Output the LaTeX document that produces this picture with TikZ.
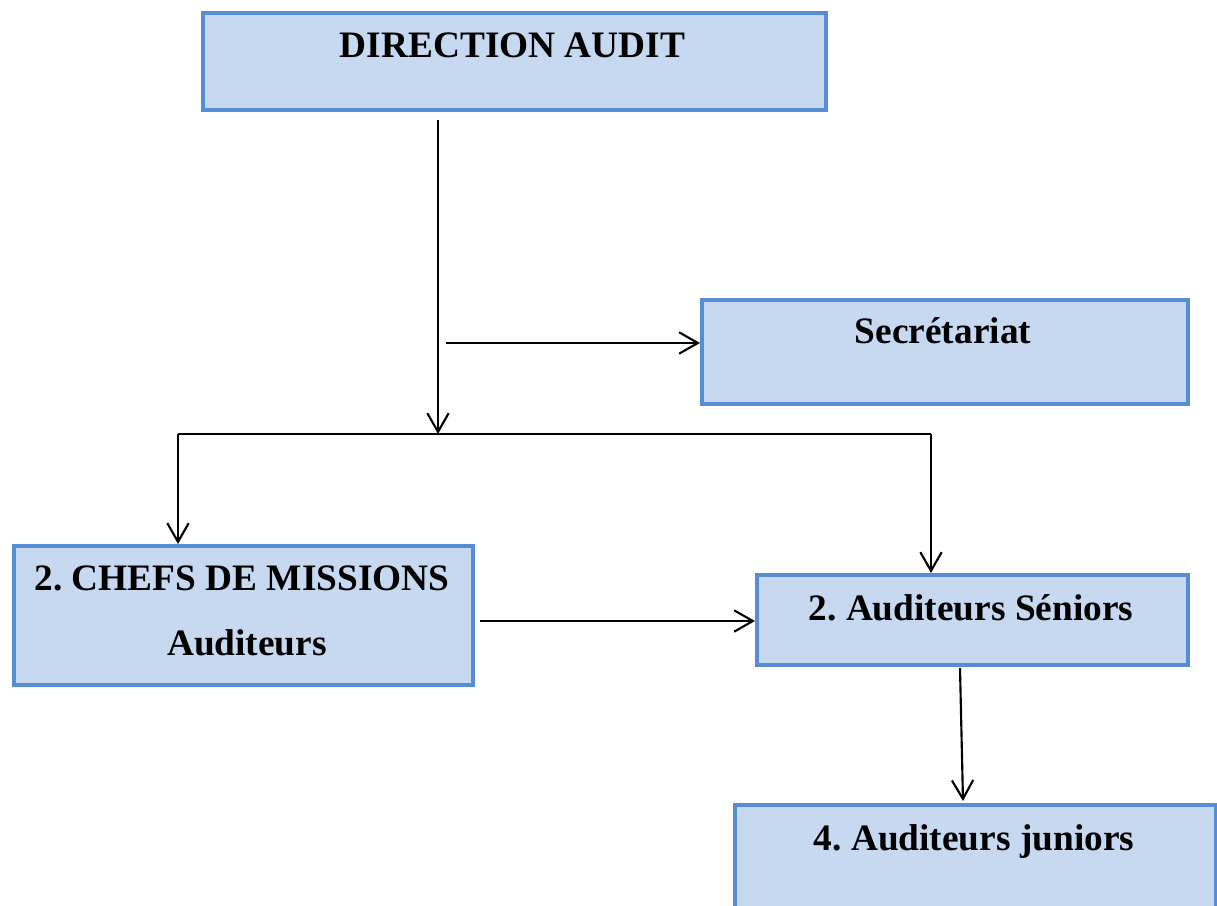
\documentclass[tikz,border=0pt]{standalone}
\usepackage{fontspec}
\setmainfont{Liberation Serif}
\usetikzlibrary{arrows.meta}
\definecolor{boxfill}{HTML}{C6D9F1}
\definecolor{boxline}{HTML}{558ED5}
\frenchspacing
\begin{document}
\begin{tikzpicture}[x=0.75pt,y=-0.75pt,
  orgbox/.style={draw=boxline,fill=boxfill,line width=3.2pt,inner sep=0pt,anchor=north west},
  lbl/.style={font=\fontsize{28}{34}\selectfont\bfseries,anchor=base,inner sep=0pt},
  link/.style={line width=1.6pt,-{Straight Barb[length=14pt,width=16pt,line width=1.6pt]}},
  bus/.style={line width=1.6pt}]
\useasboundingbox (0,0) rectangle (1217,906);
\clip (0,0) rectangle (1217,906);

% boxes (border centre lines, in pixel units)
\node[orgbox,minimum width=623*0.75pt,minimum height=97*0.75pt] (dir) at (201,11) {};
\node[orgbox,minimum width=486*0.75pt,minimum height=104*0.75pt] (sec) at (700,298) {};
\node[orgbox,minimum width=459*0.75pt,minimum height=139*0.75pt] (chefs) at (12,544) {};
\node[orgbox,minimum width=431*0.75pt,minimum height=90*0.75pt] (sen) at (755,573) {};
\node[orgbox,minimum width=481*0.75pt,minimum height=127*0.75pt] (jun) at (733,803) {};

% labels
\node[lbl] (tdir) at (512.5,58) {DIRECTION AUDIT};
\node[lbl] (tsec) at (943,343) {Secrétariat};
\node[lbl] (tchefs) at (242,590) {2. CHEFS DE MISSIONS};
\node[lbl] (taud) at (247,655) {Auditeurs};
\node[lbl] (tsen) at (971,620) {2. Auditeurs Séniors};
\node[lbl] (tjun) at (974,850) {4. Auditeurs juniors};

% connector points
\coordinate (d0) at (438,120);
\coordinate (bmid) at (438,434);
\coordinate (bl) at (178,434);
\coordinate (br) at (931,434);
\coordinate (s0) at (446,343);
\coordinate (c0) at (480,621);
\coordinate (j0) at (960,668);

% connectors
\draw[link] (d0) -- (bmid);
\draw[bus] (bl) -- (br);
\draw[link] (s0) -- (s0 -| sec.west);
\draw[link] (bl) -- (bl |- chefs.north);
\draw[link] (br) -- (br |- sen.north);
\draw[link] (c0) -- (c0 -| sen.west);
\draw[link] (j0) -- (963,801);
\end{tikzpicture}
\end{document}
